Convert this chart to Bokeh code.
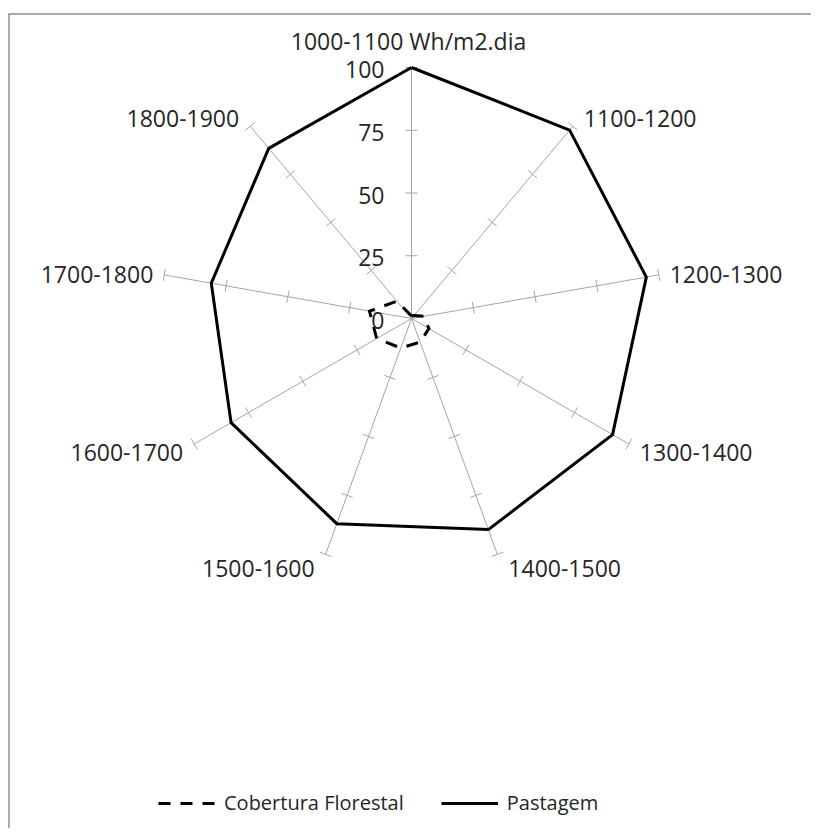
import numpy as np
from bokeh.plotting import figure
from bokeh.models import Span, Legend, LegendItem, ColumnDataSource, Range1d
from bokeh.embed import file_html
from bokeh.resources import INLINE
from bokeh.core.properties import value

# ---- data ----
categories = ["1000-1100  Wh/m2.dia", "1100-1200", "1200-1300", "1300-1400",
              "1400-1500", "1500-1600", "1600-1700", "1700-1800", "1800-1900"]
cobertura = [1, 1.5, 5, 8, 10, 12.5, 16, 17, 9]
pastagem = [100, 98, 95, 92.5, 89.5, 87, 83, 81, 88.5]
rticks = [0, 25, 50, 75, 100]
tick_labels = ["0", "25", "50", "75", "100"]
series_names = ["Cobertura Florestal", "Pastagem"]
rmax = 100

# ---- style / layout ----
FONT = "Open Sans"
TXT = "#262626"
LEFT, TOP = 8, 13
W, H = 811, 828
S = 2.51          # pixels per radial unit
CX, CY = 403, 305  # centre inside frame (px from frame left / top)
FW, FH = W - LEFT, H - TOP

p = figure(width=W, height=H, output_backend="svg", toolbar_location=None,
           x_range=Range1d(-CX / S, (FW - CX) / S),
           y_range=Range1d(-(FH - CY) / S, CY / S),
           x_axis_location=None, y_axis_location=None,
           min_border_top=TOP, min_border_left=LEFT, min_border_right=0, min_border_bottom=0)
p.grid.visible = False
p.outline_line_color = None
p.background_fill_color = "white"
p.border_fill_color = "white"

n = len(categories)
theta = np.arange(n) * 2 * np.pi / n
sx, cy_ = np.sin(theta), np.cos(theta)

# spokes
p.segment(x0=np.zeros(n), y0=np.zeros(n), x1=rmax * sx, y1=rmax * cy_,
          line_color="#a6a6a6", line_width=1)

# tick marks on each spoke
h = 6 / S
tx0, ty0, tx1, ty1 = [], [], [], []
for i in range(n):
    for t in rticks[1:]:
        bx, by = t * sx[i], t * cy_[i]
        px, py = cy_[i], -sx[i]
        tx0.append(bx - h * px); ty0.append(by - h * py)
        tx1.append(bx + h * px); ty1.append(by + h * py)
p.segment(x0=tx0, y0=ty0, x1=tx1, y1=ty1, line_color="#a6a6a6", line_width=1)

# series
def closed(vals):
    v = np.array(vals + vals[:1], dtype=float)
    th = np.append(theta, theta[0])
    return v * np.sin(th), v * np.cos(th)

xc, yc = closed(cobertura)
r1 = p.line(xc, yc, line_color="black", line_width=3, line_dash="12 10", line_join="miter")
xp, yp = closed(pastagem)
r2 = p.line(xp, yp, line_color="black", line_width=3, line_join="miter")

# radial tick labels
p.text(x=np.zeros(len(rticks)), y=rticks, text=tick_labels, x_offset=-27, y_offset=2,
       text_align="right", text_baseline="middle", text_font=value(FONT),
       text_font_size="23px", text_color=TXT)

# category labels
lx = rmax * sx
ly = rmax * cy_
aligns, xoff, yoff = [], [], []
for i in range(n):
    if abs(sx[i]) < 1e-6:
        aligns.append("center"); xoff.append(0); yoff.append(-27)
    else:
        aligns.append("left" if sx[i] > 0 else "right")
        xoff.append(11 if sx[i] > 0 else -11)
        yoff.append(-13 * cy_[i] + 2)
src = ColumnDataSource(dict(x=lx, y=ly, text=categories, align=aligns, xo=xoff, yo=yoff))
p.text(x="x", y="y", text="text", source=src, x_offset="xo", y_offset="yo",
       text_align="align", text_baseline="middle", text_font=value(FONT),
       text_font_size="23px", text_color=TXT)

# frame lines (top / left)
p.add_layout(Span(location=p.y_range.end, dimension="width", line_color="#595959", line_width=2))
p.add_layout(Span(location=p.x_range.start, dimension="height", line_color="#595959", line_width=2))

legend = Legend(items=[LegendItem(label=series_names[0], renderers=[r1]),
                       LegendItem(label=series_names[1], renderers=[r2])],
                orientation="horizontal", location=(150, 12),
                glyph_width=57, glyph_height=20, label_standoff=9, spacing=37,
                padding=0, margin=0, border_line_color=None, background_fill_alpha=0,
                label_text_font=FONT, label_text_font_size="20px", label_text_color=TXT)
p.add_layout(legend, "center")

open("out.html", "w").write(file_html(p, INLINE))
